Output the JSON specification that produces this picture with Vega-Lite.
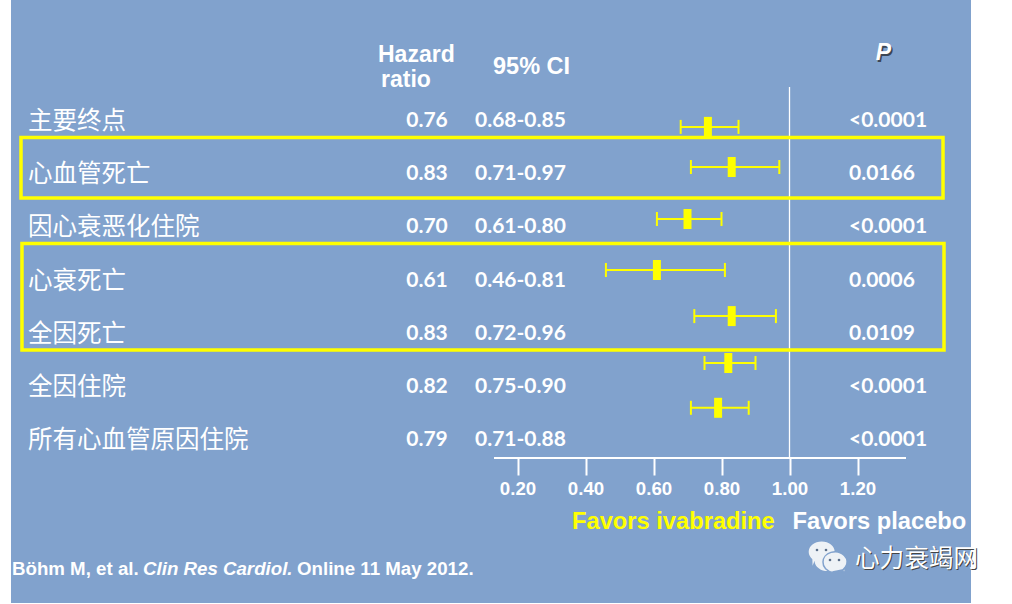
{"$schema":"https://vega.github.io/schema/vega-lite/v6.json","width":960,"height":603,"autosize":"none","padding":{"left":11,"top":0,"right":41,"bottom":1},"background":"white","view":{"fill":"#81a2cd","stroke":null},
"data":{"values":[{"a":1}]},
"resolve":{"axis":{"x":"independent"}},
"datasets":{"rows":[
{"endpoint":"主要终点","hr":0.76,"lo":0.68,"hi":0.85,"ci":"0.68-0.85","hrText":"0.76","p":"<0.0001","row":1,"markRow":1.13},
{"endpoint":"心血管死亡","hr":0.83,"lo":0.71,"hi":0.97,"ci":"0.71-0.97","hrText":"0.83","p":"0.0166","row":2,"markRow":1.887},
{"endpoint":"因心衰恶化住院","hr":0.70,"lo":0.61,"hi":0.80,"ci":"0.61-0.80","hrText":"0.70","p":"<0.0001","row":3,"markRow":2.868},
{"endpoint":"心衰死亡","hr":0.61,"lo":0.46,"hi":0.81,"ci":"0.46-0.81","hrText":"0.61","p":"0.0006","row":4,"markRow":3.83},
{"endpoint":"全因死亡","hr":0.83,"lo":0.72,"hi":0.96,"ci":"0.72-0.96","hrText":"0.83","p":"0.0109","row":5,"markRow":4.70},
{"endpoint":"全因住院","hr":0.82,"lo":0.75,"hi":0.90,"ci":"0.75-0.90","hrText":"0.82","p":"<0.0001","row":6,"markRow":5.585},
{"endpoint":"所有心血管原因住院","hr":0.79,"lo":0.71,"hi":0.88,"ci":"0.71-0.88","hrText":"0.79","p":"<0.0001","row":7,"markRow":6.43}],
"eyes":[{"ex":1.0809,"ey":9.113},{"ex":1.1074,"ey":9.113},{"ex":1.1191,"ey":9.302},{"ex":1.1456,"ey":9.302}]},
"layer":[
{"mark":{"type":"rule","color":"white","strokeWidth":2},"encoding":{
"x":{"datum":0.1309,"scale":{"domain":[-1.2897,1.5338],"nice":false,"zero":false},"axis":{"values":[0.2,0.4,0.6,0.8,1.0,1.2],"format":".2f","title":null,"domain":false,"grid":false,"orient":"bottom","offset":-145,"tickSize":17,"tickWidth":2,"tickColor":"white","labelColor":"white","labelFont":"Liberation Sans","labelFontWeight":"bold","labelFontSize":18.7,"labelPadding":4,"labelFlush":false,"labelOverlap":false}},
"x2":{"datum":1.3426},"y":{"datum":7.377,"scale":{"domain":[-1.264,10.113],"nice":false,"zero":false,"reverse":true},"axis":null}}},
{"mark":{"type":"rule","color":"white","strokeWidth":1.3},"encoding":{"x":{"datum":1,"axis":null},"y":{"datum":0.377,"axis":null},"y2":{"datum":7.377}}},
{"mark":{"type":"rect","fillOpacity":0,"stroke":"#ffff00","strokeWidth":3.5},"encoding":{"x":{"datum":-1.2603,"axis":null},"x2":{"datum":1.4515},"y":{"datum":1.330,"axis":null},"y2":{"datum":2.472}}},
{"mark":{"type":"rect","fillOpacity":0,"stroke":"#ffff00","strokeWidth":3.5},"encoding":{"x":{"datum":-1.2574,"axis":null},"x2":{"datum":1.4544},"y":{"datum":3.330,"axis":null},"y2":{"datum":5.340}}},
{"data":{"name":"rows"},"mark":{"type":"rule","color":"#ffff00","strokeWidth":2},"encoding":{"x":{"field":"lo","type":"quantitative","axis":null},"x2":{"field":"hi"},"y":{"field":"markRow","type":"quantitative","axis":null}}},
{"data":{"name":"rows"},"mark":{"type":"tick","orient":"vertical","color":"#ffff00","size":14,"thickness":2,"opacity":1},"encoding":{"x":{"field":"lo","type":"quantitative","axis":null},"y":{"field":"markRow","type":"quantitative","axis":null}}},
{"data":{"name":"rows"},"mark":{"type":"tick","orient":"vertical","color":"#ffff00","size":14,"thickness":2,"opacity":1},"encoding":{"x":{"field":"hi","type":"quantitative","axis":null},"y":{"field":"markRow","type":"quantitative","axis":null}}},
{"data":{"name":"rows"},"mark":{"type":"tick","orient":"vertical","color":"#ffff00","size":20,"thickness":8,"opacity":1},"encoding":{"x":{"field":"hr","type":"quantitative","axis":null},"y":{"field":"markRow","type":"quantitative","axis":null}}},
{"data":{"name":"rows"},"mark":{"type":"text","align":"left","baseline":"middle","color":"white","font":"Noto Sans CJK SC","fontSize":24.5,"dy":2.5},"encoding":{"text":{"field":"endpoint"},"x":{"datum":-1.2397,"axis":null},"y":{"field":"row","type":"quantitative","axis":null}}},
{"data":{"name":"rows"},"mark":{"type":"text","align":"center","baseline":"middle","color":"white","font":"Lato","fontWeight":"bold","fontSize":21,"dy":1.5},"encoding":{"text":{"field":"hrText"},"x":{"datum":-0.0662,"axis":null},"y":{"field":"row","type":"quantitative","axis":null}}},
{"data":{"name":"rows"},"mark":{"type":"text","align":"left","baseline":"middle","color":"white","font":"Lato","fontWeight":"bold","fontSize":21,"dy":1.5},"encoding":{"text":{"field":"ci"},"x":{"datum":0.075,"axis":null},"y":{"field":"row","type":"quantitative","axis":null}}},
{"data":{"name":"rows"},"mark":{"type":"text","align":"left","baseline":"middle","color":"white","font":"Lato","fontWeight":"bold","fontSize":21,"dy":1.5},"encoding":{"text":{"field":"p"},"x":{"datum":1.175,"axis":null},"y":{"field":"row","type":"quantitative","axis":null}}},
{"mark":{"type":"text","align":"left","baseline":"middle","color":"white","font":"Liberation Sans","fontWeight":"bold","fontSize":23,"dy":1},"encoding":{"text":{"value":"Hazard"},"x":{"datum":-0.2103,"axis":null},"y":{"datum":-0.245,"axis":null}}},
{"mark":{"type":"text","align":"left","baseline":"middle","color":"white","font":"Liberation Sans","fontWeight":"bold","fontSize":23,"dy":1},"encoding":{"text":{"value":"ratio"},"x":{"datum":-0.2015,"axis":null},"y":{"datum":0.226,"axis":null}}},
{"mark":{"type":"text","align":"left","baseline":"middle","color":"white","font":"Liberation Sans","fontWeight":"bold","fontSize":23.5,"dy":1},"encoding":{"text":{"value":"95% CI"},"x":{"datum":0.1279,"axis":null},"y":{"datum":-0.019,"axis":null}}},
{"mark":{"type":"text","align":"center","baseline":"middle","color":"#3c4654","font":"Liberation Sans","fontWeight":"bold","fontStyle":"italic","fontSize":23,"dx":1.5,"dy":1.5},"encoding":{"text":{"value":"P"},"x":{"datum":1.2765,"axis":null},"y":{"datum":-0.264,"axis":null}}},
{"mark":{"type":"text","align":"center","baseline":"middle","color":"white","font":"Liberation Sans","fontWeight":"bold","fontStyle":"italic","fontSize":23},"encoding":{"text":{"value":"P"},"x":{"datum":1.2765,"axis":null},"y":{"datum":-0.264,"axis":null}}},
{"mark":{"type":"text","align":"left","baseline":"middle","color":"#ffff00","font":"Liberation Sans","fontWeight":"bold","fontSize":23.7,"dy":1},"encoding":{"text":{"value":"Favors ivabradine"},"x":{"datum":0.3603,"axis":null},"y":{"datum":8.566,"axis":null}}},
{"mark":{"type":"text","align":"left","baseline":"middle","color":"white","font":"Liberation Sans","fontWeight":"bold","fontSize":23.7,"dy":1},"encoding":{"text":{"value":"Favors placebo"},"x":{"datum":1.0088,"axis":null},"y":{"datum":8.566,"axis":null}}},
{"mark":{"type":"text","align":"left","baseline":"middle","color":"white","font":"Liberation Sans","fontWeight":"bold","fontSize":18.7,"dy":1.5},"encoding":{"text":{"value":"Böhm M, et al."},"x":{"datum":-1.2868,"axis":null},"y":{"datum":9.434,"axis":null}}},
{"mark":{"type":"text","align":"left","baseline":"middle","color":"white","font":"Liberation Sans","fontWeight":"bold","fontStyle":"italic","fontSize":18.7,"dy":1.5},"encoding":{"text":{"value":"Clin Res Cardiol."},"x":{"datum":-0.9014,"axis":null},"y":{"datum":9.434,"axis":null}}},
{"mark":{"type":"text","align":"left","baseline":"middle","color":"white","font":"Liberation Sans","fontWeight":"bold","fontSize":18.7,"dy":1.5},"encoding":{"text":{"value":"Online 11 May 2012."},"x":{"datum":-0.4485,"axis":null},"y":{"datum":9.434,"axis":null}}},
{"mark":{"type":"point","filled":true,"shape":"M -1 0 A 1 0.8 0 1 1 1 0 A 1 0.8 0 1 1 -0.55 0.67 L -0.7 1.05 L -0.72 0.55 A 1 0.8 0 0 1 -1 0 Z","size":676,"color":"#eef2f6","opacity":1},"encoding":{"x":{"datum":1.0947,"axis":null},"y":{"datum":9.151,"axis":null}}},
{"mark":{"type":"point","filled":true,"shape":"M -1 0 A 1 0.85 0 1 1 -0.2 0.83 L 0.65 0.65 L 0.75 1.05 L 0.95 0.3 A 1 0.85 0 0 1 -1 0 Z","size":576,"color":"#eef2f6","stroke":"#81a2cd","strokeWidth":1.5,"opacity":1},"encoding":{"x":{"datum":1.1338,"axis":null},"y":{"datum":9.34,"axis":null}}},
{"data":{"name":"eyes"},"mark":{"type":"point","filled":true,"shape":"circle","size":7,"color":"#5b6f8a","opacity":1},"encoding":{"x":{"field":"ex","type":"quantitative","axis":null},"y":{"field":"ey","type":"quantitative","axis":null}}},
{"mark":{"type":"text","align":"left","baseline":"middle","color":"#444444","font":"Noto Sans CJK SC","fontSize":24.6,"dx":1,"dy":1},"encoding":{"text":{"value":"心力衰竭网"},"x":{"datum":1.1927,"axis":null},"y":{"datum":9.302,"axis":null}}},
{"mark":{"type":"text","align":"left","baseline":"middle","color":"white","font":"Noto Sans CJK SC","fontSize":24.6},"encoding":{"text":{"value":"心力衰竭网"},"x":{"datum":1.1927,"axis":null},"y":{"datum":9.302,"axis":null}}}
]}
